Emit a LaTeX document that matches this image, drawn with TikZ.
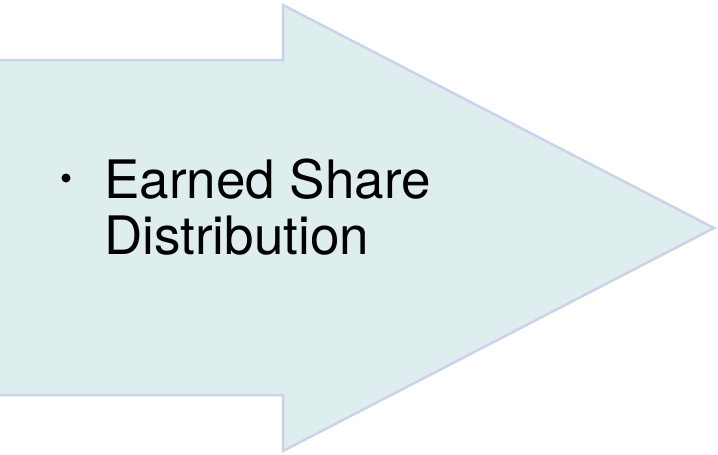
\documentclass[tikz,border=0pt]{standalone}
\usepackage{fontspec}
\setmainfont{TeX Gyre Heros}
\definecolor{arrowfill}{RGB}{222,238,238}
\definecolor{arrowline}{RGB}{204,210,234}
\begin{document}
\begin{tikzpicture}[x=1pt,y=-1pt,
  bigarrow/.style={fill=arrowfill,draw=arrowline,line width=2.5pt,line join=miter},
  label/.style={font=\fontsize{53}{56}\selectfont,align=left,inner sep=0pt,anchor=base west},
  bulletdot/.style={circle,fill=black,inner sep=0pt,minimum size=9pt}]
\useasboundingbox (0,0) rectangle (718,455);
\draw[bigarrow] (-6,60) -- (283,60) -- (283,5) -- (714,228) -- (283,451) -- (283,395) -- (-6,395) -- cycle;
\node[bulletdot] (dot) at (66,178) {};
\node[label] (txt) at (104,254) {Earned Share\\Distribution};
\end{tikzpicture}
\end{document}
